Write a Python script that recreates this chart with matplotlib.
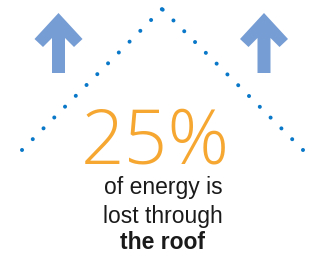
import matplotlib
matplotlib.use("Agg")
import matplotlib.pyplot as plt
from matplotlib.patches import Polygon

# roof outline (pixel space of the 317x258 canvas), drawn eave -> ridge on each side
roof_left_x, roof_left_y = [22, 162], [150, 9]
roof_right_x, roof_right_y = [303, 162], [150, 9]

# arrow centres
arrow_x = [58.5, 264]
arrow_tip_y = 13
arrow_base_y = 73

stat_value = "25%"
caption_lines = ["of energy is", "lost through"]
caption_bold = "the roof"

BLUE_DOT = "#0a78c8"
ARROW_BLUE = "#769dd4"
ORANGE = "#f5a732"
TEXT = "#1a1a1a"

W, H = 317, 258
fig = plt.figure(figsize=(W / 100, H / 100), dpi=100)
ax = fig.add_axes([0, 0, 1, 1])
ax.set_xlim(0, W)
ax.set_ylim(H, 0)
ax.axis("off")

# dotted roof
for xs, ys in [(roof_left_x, roof_left_y), (roof_right_x, roof_right_y)]:
    ax.plot(xs, ys, color=BLUE_DOT, linewidth=2.9,
            linestyle=(0, (0.01, 3.78)), dash_capstyle="round")


def arrow(cx):
    hw, sw = 24, 6.5
    pts = [
        (cx, arrow_tip_y),
        (cx + hw, arrow_tip_y + 26),
        (cx + hw - 8.5, arrow_tip_y + 34),
        (cx + sw, arrow_tip_y + 25),
        (cx + sw, arrow_base_y),
        (cx - sw, arrow_base_y),
        (cx - sw, arrow_tip_y + 25),
        (cx - hw + 8.5, arrow_tip_y + 34),
        (cx - hw, arrow_tip_y + 26),
    ]
    ax.add_patch(Polygon(pts, closed=True, facecolor=ARROW_BLUE, edgecolor="none"))


for cx in arrow_x:
    arrow(cx)

ax.text(155, 164, stat_value, color=ORANGE, fontsize=55, family="Open Sans",
        fontweight=300, ha="center", va="baseline")
for i, line in enumerate(caption_lines):
    ax.text(163, 194 + 28.5 * i, line, color=TEXT, fontsize=16.5,
            family="Liberation Sans", ha="center", va="baseline")
ax.text(163, 249, caption_bold, color=TEXT, fontsize=16.5, family="Liberation Sans",
        fontweight="bold", ha="center", va="baseline")

fig.savefig("out.png", dpi=100)
